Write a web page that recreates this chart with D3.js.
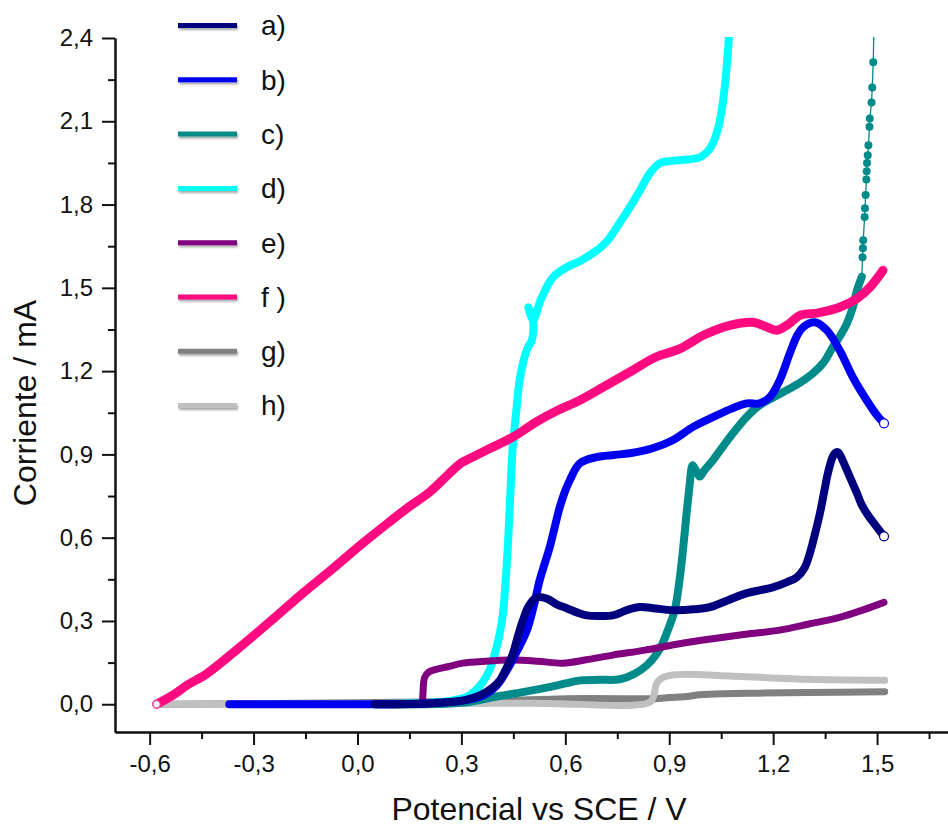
<!DOCTYPE html>
<html>
<head>
<meta charset="utf-8">
<script src="https://cdn.jsdelivr.net/npm/d3@7"></script>
<style>
  html, body { margin: 0; padding: 0; background: #fff; }
  svg text { font-family: "Liberation Sans", Arial, sans-serif; fill: #111; }
</style>
</head>
<body>
<div id="chart"></div>
<script>
// ── Data (potential V vs SCE, current mA) ───────────────────────────────
const seriesNames = ["a)", "b)", "c)", "d)", "e)", "f )", "g)", "h)"];
const seriesColors = ["#00007f", "#0000f0", "#008b8b", "#00ffff", "#800080", "#ff0a80", "#808080", "#c0c0c0"];

const serA = [[0.05,0],[0.2,0.003],[0.258,0.007],[0.31,0.015],[0.353,0.032],[0.39,0.06],[0.411,0.086],[0.43,0.13],[0.448,0.18],[0.462,0.24],[0.477,0.30],[0.495,0.355],[0.518,0.385],[0.546,0.381],[0.575,0.36],[0.604,0.346],[0.635,0.33],[0.662,0.32],[0.7,0.318],[0.737,0.32],[0.78,0.34],[0.815,0.35],[0.86,0.345],[0.91,0.339],[0.97,0.342],[1.017,0.35],[1.07,0.375],[1.124,0.40],[1.16,0.41],[1.199,0.421],[1.24,0.44],[1.268,0.457],[1.29,0.49],[1.306,0.544],[1.32,0.61],[1.335,0.688],[1.348,0.77],[1.358,0.832],[1.37,0.885],[1.378,0.904],[1.387,0.908],[1.4,0.88],[1.413,0.843],[1.428,0.80],[1.442,0.76],[1.455,0.72],[1.47,0.688],[1.495,0.645],[1.52,0.605]];
const serB = [[-0.37,0],[-0.2,0],[0.0,0],[0.2,0.003],[0.3,0.012],[0.36,0.03],[0.4,0.065],[0.431,0.122],[0.46,0.19],[0.489,0.266],[0.51,0.36],[0.526,0.447],[0.555,0.566],[0.584,0.71],[0.6,0.77],[0.613,0.807],[0.642,0.868],[0.69,0.89],[0.74,0.898],[0.786,0.904],[0.852,0.922],[0.91,0.951],[0.97,1.0],[1.026,1.034],[1.08,1.065],[1.124,1.084],[1.161,1.084],[1.19,1.106],[1.219,1.167],[1.248,1.264],[1.27,1.33],[1.286,1.358],[1.32,1.376],[1.355,1.347],[1.392,1.275],[1.43,1.178],[1.47,1.095],[1.5,1.04],[1.52,1.012]];
const serC = [[0.05,0],[0.3,0.005],[0.39,0.025],[0.46,0.04],[0.546,0.06],[0.6,0.075],[0.642,0.086],[0.7,0.088],[0.757,0.09],[0.8,0.11],[0.835,0.14],[0.863,0.18],[0.881,0.22],[0.9,0.28],[0.916,0.34],[0.93,0.45],[0.94,0.56],[0.95,0.688],[0.958,0.78],[0.965,0.854],[0.968,0.861],[0.978,0.84],[0.988,0.82],[1.0,0.84],[1.026,0.879],[1.075,0.962],[1.12,1.03],[1.153,1.07],[1.2,1.105],[1.239,1.131],[1.28,1.16],[1.315,1.192],[1.345,1.23],[1.372,1.286],[1.395,1.33],[1.413,1.372],[1.43,1.43],[1.442,1.491],[1.456,1.54]];
// sparse points of c above 1.55 mA (drawn as dots on a thin line)
const serCTail = [[1.456,1.54],[1.458,1.61],[1.459,1.643],[1.46,1.671],[1.464,1.755],[1.465,1.787],[1.467,1.834],[1.469,1.89],[1.47,1.92],[1.471,1.95],[1.473,1.978],[1.475,2.014],[1.478,2.08],[1.479,2.11],[1.484,2.168],[1.486,2.222],[1.489,2.313],[1.491,2.45]];
const serD = [[0.05,0],[0.2,0.005],[0.28,0.015],[0.32,0.03],[0.353,0.065],[0.38,0.12],[0.396,0.18],[0.41,0.25],[0.42,0.327],[0.428,0.45],[0.434,0.566],[0.441,0.75],[0.448,0.926],[0.458,1.05],[0.468,1.167],[0.48,1.24],[0.492,1.286],[0.503,1.31],[0.507,1.38],[0.493,1.43],[0.507,1.385],[0.53,1.46],[0.564,1.538],[0.604,1.574],[0.64,1.595],[0.68,1.625],[0.71,1.655],[0.728,1.68],[0.76,1.74],[0.786,1.79],[0.815,1.85],[0.844,1.913],[0.873,1.949],[0.93,1.96],[0.988,1.97],[1.01,1.99],[1.026,2.02],[1.04,2.07],[1.046,2.10],[1.06,2.22],[1.075,2.45]];
const serE = [[0.188,0],[0.189,0.04],[0.194,0.097],[0.205,0.115],[0.217,0.122],[0.26,0.135],[0.304,0.148],[0.37,0.155],[0.448,0.159],[0.52,0.155],[0.593,0.148],[0.66,0.16],[0.737,0.177],[0.83,0.195],[0.93,0.218],[1.02,0.235],[1.12,0.252],[1.219,0.267],[1.3,0.288],[1.392,0.313],[1.46,0.34],[1.52,0.367]];
const serF = [[-0.58,0],[-0.534,0.032],[-0.49,0.07],[-0.435,0.11],[-0.34,0.205],[-0.25,0.30],[-0.158,0.40],[-0.07,0.49],[0.015,0.58],[0.08,0.645],[0.142,0.705],[0.209,0.765],[0.26,0.825],[0.30,0.87],[0.324,0.885],[0.38,0.92],[0.448,0.962],[0.52,1.02],[0.58,1.06],[0.642,1.095],[0.72,1.15],[0.795,1.203],[0.86,1.25],[0.93,1.28],[1.0,1.33],[1.075,1.365],[1.141,1.376],[1.18,1.36],[1.21,1.347],[1.245,1.37],[1.277,1.401],[1.33,1.41],[1.392,1.43],[1.44,1.46],[1.479,1.502],[1.517,1.563]];
const serG = [[-0.58,0],[0.0,0.005],[0.4,0.012],[0.6,0.02],[0.844,0.02],[0.87,0.021],[0.9,0.024],[0.95,0.028],[0.988,0.034],[1.06,0.038],[1.161,0.04],[1.3,0.042],[1.522,0.045]];
const serH = [[-0.58,0],[0.0,0.002],[0.5,0.004],[0.844,0.007],[0.855,0.03],[0.864,0.076],[0.88,0.095],[0.902,0.104],[0.95,0.108],[1.05,0.103],[1.161,0.097],[1.3,0.09],[1.522,0.086]];

const xMajorTicks = [-0.6, -0.3, 0.0, 0.3, 0.6, 0.9, 1.2, 1.5];
const yMajorTicks = [0.0, 0.3, 0.6, 0.9, 1.2, 1.5, 1.8, 2.1, 2.4];

// ── Layout ──────────────────────────────────────────────────────────────
const W = 948, H = 829;
const plot = { left: 115, right: 981, top: 38, bottom: 732 };

const x = d3.scaleLinear().domain([-0.7, 1.8]).range([plot.left, plot.right]);
const y = d3.scaleLinear().domain([-0.1, 2.4]).range([plot.bottom, plot.top]);

const locale = d3.formatLocale({ decimal: ",", thousands: ".", grouping: [3], currency: ["", ""], minus: "-" });
const fmt = locale.format(".1f");

const svg = d3.select("#chart").append("svg")
  .attr("width", W).attr("height", H);

const defs = svg.append("defs");
defs.append("clipPath").attr("id", "plotClip")
  .append("rect")
    .attr("x", plot.left + 1).attr("y", plot.top - 1)
    .attr("width", W - plot.left).attr("height", plot.bottom - plot.top);

// legend lines have a soft shadow; region in user space (lines have no height)
const shadow = defs.append("filter").attr("id", "legShadow")
  .attr("filterUnits", "userSpaceOnUse")
  .attr("x", 165).attr("y", 0).attr("width", 90).attr("height", 440);
shadow.append("feDropShadow")
  .attr("dx", 1).attr("dy", 2).attr("stdDeviation", 1.3)
  .attr("flood-color", "#000").attr("flood-opacity", 0.35);

// ── Curves ──────────────────────────────────────────────────────────────
const line = d3.line()
  .x(d => x(d[0]))
  .y(d => y(d[1]))
  .curve(d3.curveCatmullRom.alpha(0.5));

const gCurves = svg.append("g").attr("clip-path", "url(#plotClip)");

// draw order roughly as in the figure (f ends on top)
const drawOrder = [
  { data: serG, i: 6, w: 7 },
  { data: serH, i: 7, w: 7 },
  { data: serD, i: 3, w: 8 },
  { data: serC, i: 2, w: 8 },
  { data: serE, i: 4, w: 7 },
  { data: serB, i: 1, w: 8 },
  { data: serA, i: 0, w: 8 },
  { data: serF, i: 5, w: 9 }
];

drawOrder.forEach(s => {
  gCurves.append("path")
    .datum(s.data)
    .attr("fill", "none")
    .attr("stroke", seriesColors[s.i])
    .attr("stroke-width", s.w)
    .attr("stroke-linecap", "round")
    .attr("stroke-linejoin", "round")
    .attr("d", line);

  if (s.i === 2) {
    // thin tail + dots for c
    gCurves.append("path")
      .datum(serCTail)
      .attr("fill", "none")
      .attr("stroke", seriesColors[2])
      .attr("stroke-width", 1.3)
      .attr("d", d3.line().x(d => x(d[0])).y(d => y(d[1])));
    gCurves.selectAll(".cdot")
      .data(serCTail.slice(1, -1))
      .join("circle")
        .attr("class", "cdot")
        .attr("cx", d => x(d[0])).attr("cy", d => y(d[1]))
        .attr("r", 4)
        .attr("fill", seriesColors[2]);
  }
});

// open end markers on a) and b), start marker on f)
[[serA, 0], [serB, 1]].forEach(([d, i]) => {
  const p = d[d.length - 1];
  gCurves.append("circle")
    .attr("cx", x(p[0])).attr("cy", y(p[1])).attr("r", 4.5)
    .attr("fill", "#fff").attr("stroke", seriesColors[i]).attr("stroke-width", 1.2);
});
gCurves.append("circle")
  .attr("cx", x(serF[0][0])).attr("cy", y(serF[0][1])).attr("r", 3.5)
  .attr("fill", "#fff").attr("stroke", "#d070a0").attr("stroke-width", 1);

// ── Axes ────────────────────────────────────────────────────────────────
const xMinor = xMajorTicks.slice(0, -1).map(v => v + 0.15).concat([1.65]);
const yMinor = yMajorTicks.slice(0, -1).map(v => v + 0.15);

function styleAxis(ax) {
  ax.selectAll("line").attr("stroke", "#111").attr("stroke-width", 2);
  ax.select(".domain").attr("stroke", "#111").attr("stroke-width", 2);
  ax.selectAll("text").attr("font-size", "24px").attr("fill", "#111")
    .attr("font-family", "'Liberation Sans', Arial, sans-serif");
}

svg.append("g")
  .attr("transform", `translate(0,${plot.bottom})`)
  .call(d3.axisBottom(x).tickValues(xMinor).tickSize(7).tickSizeOuter(0).tickFormat(""))
  .call(styleAxis);
svg.append("g")
  .attr("transform", `translate(0,${plot.bottom})`)
  .call(d3.axisBottom(x).tickValues(xMajorTicks).tickSize(13).tickSizeOuter(0).tickPadding(10).tickFormat(fmt))
  .call(styleAxis);

svg.append("g")
  .attr("transform", `translate(${plot.left},0)`)
  .call(d3.axisLeft(y).tickValues(yMinor).tickSize(7).tickSizeOuter(0).tickFormat(""))
  .call(styleAxis);
svg.append("g")
  .attr("transform", `translate(${plot.left},0)`)
  .call(d3.axisLeft(y).tickValues(yMajorTicks).tickSize(13).tickSizeOuter(0).tickPadding(9).tickFormat(fmt))
  .call(styleAxis);

// axis titles
svg.append("text")
  .attr("x", 539).attr("y", 820)
  .attr("text-anchor", "middle")
  .attr("font-size", "32px")
  .text("Potencial vs SCE / V");

svg.append("text")
  .attr("transform", "rotate(-90)")
  .attr("x", -403).attr("y", 36)
  .attr("text-anchor", "middle")
  .attr("font-size", "32px")
  .text("Corriente / mA");

// ── Legend ──────────────────────────────────────────────────────────────
const legend = svg.append("g");
seriesNames.forEach((name, i) => {
  const ly = 25.5 + i * 54.3;
  legend.append("line")
    .attr("x1", 178).attr("x2", 237)
    .attr("y1", ly).attr("y2", ly)
    .attr("stroke", seriesColors[i])
    .attr("stroke-width", 5)
    .attr("filter", "url(#legShadow)");
  legend.append("text")
    .attr("x", 261).attr("y", ly)
    .attr("dy", "0.35em")
    .attr("font-size", "28px")
    .text(name);
});
</script>
</body>
</html>
